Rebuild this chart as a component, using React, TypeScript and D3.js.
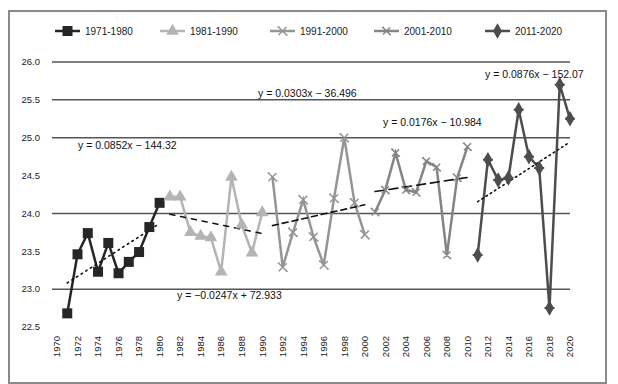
import React from "react";
import * as d3 from "d3";

// decades shown in the legend
const periods = ["1971-1980", "1981-1990", "1991-2000", "2001-2010", "2011-2020"];
const startYears = [1971, 1981, 1991, 2001, 2011];

// yearly values per decade
const values1971 = [22.68, 23.46, 23.74, 23.23, 23.61, 23.21, 23.36, 23.49, 23.82, 24.14];
const values1981 = [24.22, 24.22, 23.75, 23.7, 23.68, 23.23, 24.48, 23.85, 23.48, 24.01];
const values1991 = [24.48, 23.29, 23.75, 24.18, 23.69, 23.32, 24.2, 25.0, 24.14, 23.72];
const values2001 = [24.02, 24.31, 24.8, 24.31, 24.28, 24.69, 24.61, 23.45, 24.47, 24.88];
const values2011 = [23.45, 24.71, 24.44, 24.47, 25.37, 24.75, 24.6, 22.75, 25.7, 25.25];

const trendLabels = [
  "y = 0.0852x − 144.32",
  "y = −0.0247x + 72.933",
  "y = 0.0303x − 36.496",
  "y = 0.0176x − 10.984",
  "y = 0.0876x − 152.07",
];

const yearLabels = [
  "1970", "1972", "1974", "1976", "1978", "1980", "1982", "1984", "1986",
  "1988", "1990", "1992", "1994", "1996", "1998", "2000", "2002", "2004",
  "2006", "2008", "2010", "2012", "2014", "2016", "2018", "2020",
];
const yTicks = [22.5, 23.0, 23.5, 24.0, 24.5, 25.0, 25.5, 26.0];
const gridValues = [23.0, 24.0, 25.0, 25.5, 26.0];

const W = 618;
const H = 384;
const FONT = "'Liberation Sans', Arial, sans-serif";

const colors = ["#262626", "#b4b4b4", "#959595", "#858585", "#4d4d4d"];
const trendDash = ["1.5,4", "5,6", "6,4", "9,5", "1.5,3.5"];
// where each trend equation sits (x, baseline y)
const labelPos: [number, number][] = [
  [78, 149],
  [177, 299],
  [258, 97],
  [383, 126],
  [485, 78],
];

function Marker({ kind, x, y, color }: { kind: number; x: number; y: number; color: string }) {
  if (kind === 0) return <rect x={x - 5} y={y - 5} width={10} height={10} fill={color} />;
  if (kind === 1) {
    const p = d3.symbol(d3.symbolTriangle, 70)();
    return <path d={p || ""} transform={`translate(${x},${y})`} fill={color} />;
  }
  if (kind === 4) {
    const p = d3.symbol(d3.symbolDiamond, 70)();
    return (
      <g transform={`translate(${x},${y})`}>
        <path d={p || ""} fill={color} />
        <path d="M-5,0H5M0,-6V6" stroke={color} strokeWidth={2} />
      </g>
    );
  }
  const s = kind === 2 ? 4 : 3.5;
  return (
    <path
      d={`M${x - s},${y - s}L${x + s},${y + s}M${x - s},${y + s}L${x + s},${y - s}M${x - s - 1},${y - s}h2M${x + s - 1},${y + s}h2`}
      stroke={color}
      strokeWidth={1.5}
      fill="none"
    />
  );
}

export default function App() {
  const series = [values1971, values1981, values1991, values2001, values2011];

  const x = d3.scaleLinear().domain([1970, 2020]).range([57, 570]);
  const y = d3.scaleLinear().domain([22.5, 26.0]).range([327, 62]);

  const line = d3
    .line<[number, number]>()
    .x((d) => x(d[0]))
    .y((d) => y(d[1]));

  const legendX = [55, 160, 270, 374, 485];

  return (
    <svg
      width={W}
      height={H}
      style={{ position: "absolute", left: 0, top: 0, background: "#fff" }}
      fontFamily={FONT}
    >
      <rect x={9} y={11} width={597} height={372} fill="#fff" stroke="#8a8a8a" strokeWidth={2} />

      {/* gridlines */}
      {gridValues.map((v) => (
        <line key={v} x1={52} x2={570} y1={y(v)} y2={y(v)} stroke="#555" strokeWidth={1.5} />
      ))}

      {/* y labels */}
      {yTicks.map((v) => (
        <text key={v} x={40} y={y(v)} dy="0.35em" textAnchor="end" fontSize={9.5} fill="#222">
          {v.toFixed(1)}
        </text>
      ))}

      {/* x labels */}
      {yearLabels.map((lab) => (
        <text
          key={lab}
          transform={`translate(${x(+lab)},336) rotate(-90)`}
          textAnchor="end"
          dy="0.35em"
          fontSize={9.5}
          fill="#222"
        >
          {lab}
        </text>
      ))}

      {/* series */}
      {series.map((vals, si) => {
        const pts: [number, number][] = vals.map((v, i) => [startYears[si] + i, v]);
        const mx = d3.mean(pts, (p) => p[0]) as number;
        const my = d3.mean(pts, (p) => p[1]) as number;
        const slope =
          d3.sum(pts, (p) => (p[0] - mx) * (p[1] - my)) / d3.sum(pts, (p) => (p[0] - mx) ** 2);
        const x0 = pts[0][0];
        const x1 = pts[pts.length - 1][0];
        const trend: [number, number][] = [
          [x0, my + slope * (x0 - mx)],
          [x1, my + slope * (x1 - mx)],
        ];
        return (
          <g key={si}>
            <path d={line(pts) || ""} fill="none" stroke={colors[si]} strokeWidth={2.5} />
            <path
              d={line(trend) || ""}
              fill="none"
              stroke="#111"
              strokeWidth={1.6}
              strokeDasharray={trendDash[si]}
              strokeLinecap="round"
            />
            {pts.map((p, i) => (
              <Marker key={i} kind={si} x={x(p[0])} y={y(p[1])} color={colors[si]} />
            ))}
          </g>
        );
      })}

      {/* trend equations */}
      {trendLabels.map((t, i) => (
        <text key={t} x={labelPos[i][0]} y={labelPos[i][1]} fontSize={10.5} fill="#111">
          {t}
        </text>
      ))}

      {/* legend */}
      {periods.map((p, i) => (
        <g key={p}>
          <line x1={legendX[i]} x2={legendX[i] + 25} y1={31} y2={31} stroke={colors[i]} strokeWidth={2.5} />
          <Marker kind={i} x={legendX[i] + 12.5} y={31} color={colors[i]} />
          <text x={legendX[i] + 30} y={31} dy="0.35em" fontSize={10} fill="#222">
            {p}
          </text>
        </g>
      ))}
    </svg>
  );
}
